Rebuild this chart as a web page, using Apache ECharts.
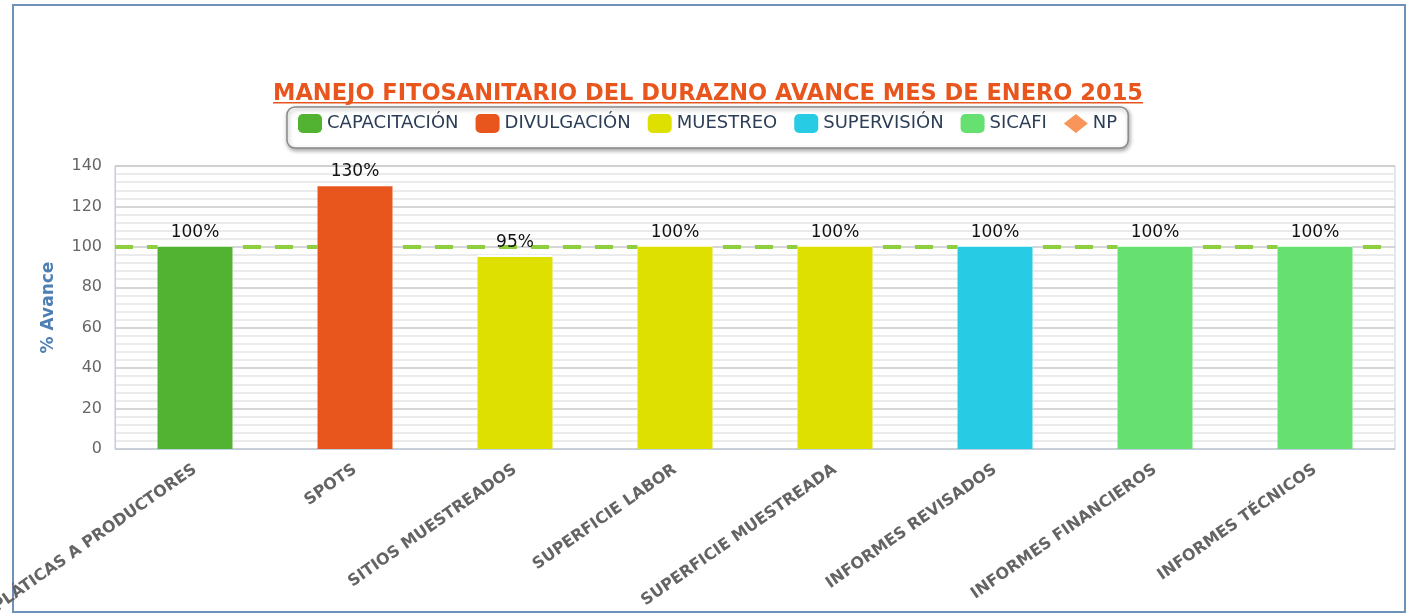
<!DOCTYPE html>
<html>
<head>
<meta charset="utf-8">
<script src="https://cdn.jsdelivr.net/npm/echarts@6/dist/echarts.min.js"></script>
<style>
  html, body { margin: 0; padding: 0; background: #fff; }
  #main { width: 1408px; height: 614px; }
</style>
</head>
<body>
<div id="main"></div>
<script>
// chart data
const categories = ['PLÁTICAS A PRODUCTORES', 'SPOTS', 'SITIOS MUESTREADOS', 'SUPERFICIE LABOR',
  'SUPERFICIE MUESTREADA', 'INFORMES REVISADOS', 'INFORMES FINANCIEROS', 'INFORMES TÉCNICOS']
const capacitacion = [100, '-', '-', '-', '-', '-', '-', '-']
const divulgacion = ['-', 130, '-', '-', '-', '-', '-', '-']
const muestreo = ['-', '-', 95, 100, 100, '-', '-', '-']
const supervision = ['-', '-', '-', '-', '-', 100, '-', '-']
const sicafi = ['-', '-', '-', '-', '-', '-', 100, 100]
const metaNP = 100

const font = 'DejaVu Sans'

const barLabel = {
  show: true,
  position: 'top',
  distance: 6,
  formatter: '{c}%',
  color: '#111',
  fontSize: 17,
  fontFamily: font
}

function barSeries(name, data, color) {
  return {
    name: name,
    type: 'bar',
    stack: 'avance',
    barWidth: 75,
    zlevel: 1,
    // white edge on top hides the part of the meta line above the bar
    itemStyle: { color: color, shadowColor: '#fff', shadowBlur: 0, shadowOffsetY: -2 },
    label: barLabel,
    data: data
  }
}

const option = {
  animation: false,
  backgroundColor: '#fff',
  title: {
    text: 'MANEJO FITOSANITARIO DEL DURAZNO AVANCE MES DE ENERO 2015',
    left: 268,
    top: 78,
    textStyle: { color: '#e8561e', fontSize: 22.5, fontWeight: 'bold', fontFamily: font }
  },
  legend: {
    top: 107,
    left: 287,
    padding: [7, 11, 15, 11],
    itemWidth: 24,
    itemHeight: 19,
    itemGap: 17,
    backgroundColor: '#fff',
    borderColor: '#8a8a8a',
    borderWidth: 1.5,
    borderRadius: 8,
    shadowBlur: 4,
    shadowColor: 'rgba(0,0,0,0.35)',
    shadowOffsetX: 1,
    shadowOffsetY: 2,
    textStyle: { color: '#2c3e56', fontSize: 18, fontFamily: font },
    data: [
      { name: 'CAPACITACIÓN', icon: 'roundRect' },
      { name: 'DIVULGACIÓN', icon: 'roundRect' },
      { name: 'MUESTREO', icon: 'roundRect' },
      { name: 'SUPERVISIÓN', icon: 'roundRect' },
      { name: 'SICAFI', icon: 'roundRect' },
      { name: 'NP', icon: 'diamond' }
    ]
  },
  grid: {
    left: 115,
    right: 13,
    top: 166,
    bottom: 165,
    outerBoundsMode: 'none',
    show: true,
    backgroundColor: '#fff',
    borderColor: '#c4cfdc',
    borderWidth: 1
  },
  xAxis: {
    type: 'category',
    data: categories,
    axisLine: { lineStyle: { color: '#c0cfdf', width: 1 } },
    axisTick: { length: 7, lineStyle: { color: '#333', width: 3 } },
    axisLabel: {
      rotate: 35,
      margin: 19,
      interval: 0,
      color: '#646464',
      fontSize: 16,
      fontWeight: 'bold',
      fontFamily: font
    }
  },
  yAxis: {
    type: 'value',
    min: 0,
    max: 140,
    interval: 20,
    name: '% Avance',
    nameLocation: 'middle',
    nameGap: 58,
    nameTextStyle: { color: '#4d7fb3', fontSize: 17, fontWeight: 'bold', fontFamily: font },
    axisLine: { show: true, lineStyle: { color: '#c0cfdf' } },
    axisLabel: { color: '#666', fontSize: 16, fontFamily: font, margin: 13 },
    splitLine: { lineStyle: { color: '#c8c8c8', width: 1.5 } },
    minorTick: { show: false, splitNumber: 5 },
    minorSplitLine: { show: true, lineStyle: { color: '#ebebeb', width: 2 } }
  },
  graphic: [{
    type: 'rect',
    z: 0,
    shape: { x: 13, y: 5, width: 1392, height: 607 },
    style: { fill: 'none', stroke: '#6f92bb', lineWidth: 2 }
  }, {
    type: 'rect',
    z: 100,
    shape: { x: 273, y: 102, width: 870, height: 1.5 },
    style: { fill: '#e8561e' }
  }],
  series: [
    barSeries('CAPACITACIÓN', capacitacion, '#52b332'),
    barSeries('DIVULGACIÓN', divulgacion, '#e8561e'),
    barSeries('MUESTREO', muestreo, '#dde000'),
    barSeries('SUPERVISIÓN', supervision, '#27cce4'),
    barSeries('SICAFI', sicafi, '#66e070'),
    {
      name: 'NP',
      type: 'line',
      symbol: 'none',
      itemStyle: { color: '#f7955b' },
      data: categories.map(() => '-'),
      markLine: {
        silent: true,
        symbol: 'none',
        label: { show: false },
        lineStyle: { color: '#8dcf3f', type: [18, 14], width: 4 },
        data: [{ yAxis: metaNP }]
      }
    }
  ]
}

const chart = echarts.init(document.getElementById('main'))
chart.setOption(option)
</script>
</body>
</html>
